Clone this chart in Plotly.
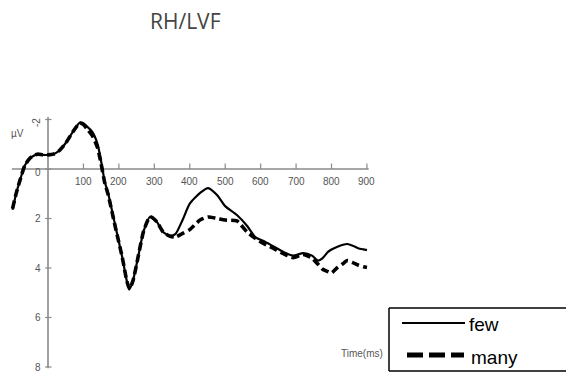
import plotly.graph_objects as go

# ---- data ----
time_ms = [-100, -90, -80, -65, -50, -30, -15, 0, 15, 30, 50, 70, 90, 100, 110, 125,
           140, 150, 160, 170, 190, 210, 222, 230, 240, 255, 270, 288, 307, 325, 345,
           360, 380, 400, 430, 452, 477, 500, 533, 562, 585, 607, 635, 664, 692, 720,
           745, 762, 775, 790, 800, 815, 830, 845, 860, 875, 890, 900]
few_uv = [1.65, 1.0, 0.5, -0.15, -0.45, -0.6, -0.57, -0.57, -0.6, -0.72, -1.05, -1.5,
          -1.88, -1.85, -1.72, -1.5, -1.0, -0.3, 0.5, 1.0, 2.3, 3.6, 4.5, 4.85, 4.5,
          3.5, 2.5, 1.93, 2.13, 2.55, 2.7, 2.62, 2.05, 1.4, 0.95, 0.77, 1.05, 1.5,
          1.86, 2.3, 2.75, 2.9, 3.12, 3.35, 3.5, 3.4, 3.5, 3.7, 3.6, 3.35, 3.25, 3.15,
          3.07, 3.03, 3.1, 3.2, 3.25, 3.28]
many_uv = [1.6, 1.0, 0.5, -0.15, -0.45, -0.6, -0.57, -0.57, -0.6, -0.72, -1.05, -1.5,
           -1.85, -1.8, -1.62, -1.35, -0.85, -0.2, 0.55, 1.05, 2.35, 3.6, 4.5, 4.85,
           4.5, 3.5, 2.5, 1.93, 2.13, 2.55, 2.72, 2.75, 2.6, 2.45, 2.05, 1.94, 2.0,
           2.06, 2.1, 2.55, 2.8, 3.0, 3.2, 3.42, 3.58, 3.45, 3.6, 3.85, 4.05, 4.15,
           4.2, 4.0, 3.85, 3.7, 3.78, 3.88, 3.95, 3.98]
x_tick_vals = [100, 200, 300, 400, 500, 600, 700, 800, 900]
x_tick_text = ["100", "200", "300", "400", "500", "600", "700", "800", "900"]
y_tick_vals = [-2, 0, 2, 4, 6, 8]
y_tick_text = ["-2", "0", "2", "4", "6", "8"]
series_names = ["few", "many"]
title_text = "RH/LVF"

# page offset (body margin) and figure size
OFF = 8
W, H = 574, 373


def px(xp):
    return (xp - OFF) / W


def py(yp):
    return 1 - (yp - OFF) / H


axis_col = "#8a8a8a"
lab_col = "#555555"
tick_font = dict(family="Liberation Sans, Arial", size=10, color=lab_col)

fig = go.Figure()

# axes drawn in data space
fig.add_trace(go.Scatter(x=[0, 0], y=[-2.1, 8.05], mode="lines",
                         line=dict(color=axis_col, width=1.6), hoverinfo="skip", showlegend=False))
fig.add_trace(go.Scatter(x=[-102, 905], y=[0, 0], mode="lines",
                         line=dict(color=axis_col, width=1.6), hoverinfo="skip", showlegend=False))
for t in x_tick_vals:
    fig.add_trace(go.Scatter(x=[t, t], y=[0, -0.22], mode="lines",
                             line=dict(color=axis_col, width=1.2), hoverinfo="skip", showlegend=False))
for v in y_tick_vals:
    fig.add_trace(go.Scatter(x=[-8, 10], y=[v, v], mode="lines",
                             line=dict(color=axis_col, width=1.2), hoverinfo="skip", showlegend=False))

# curves
fig.add_trace(go.Scatter(x=time_ms, y=few_uv, mode="lines", name=series_names[0],
                         line=dict(color="black", width=2.2, shape="spline", smoothing=0.6),
                         showlegend=False))
fig.add_trace(go.Scatter(x=time_ms, y=many_uv, mode="lines", name=series_names[1],
                         line=dict(color="black", width=3.6, dash="8px,4px", shape="spline", smoothing=0.6),
                         showlegend=False))

# tick labels
for t, s in zip(x_tick_vals, x_tick_text):
    fig.add_annotation(x=t, y=0, text=s, showarrow=False, xref="x", yref="y",
                       xanchor="center", yanchor="top", yshift=-5, font=tick_font)
for v, s in zip(y_tick_vals, y_tick_text):
    if s == "-2":
        fig.add_annotation(x=0, y=v, text=s, showarrow=False, xref="x", yref="y",
                           xanchor="right", yanchor="middle", xshift=-4, yshift=-3,
                           textangle=-90, font=tick_font)
    elif s == "0":
        fig.add_annotation(x=0, y=v, text=s, showarrow=False, xref="x", yref="y",
                           xanchor="right", yanchor="middle", xshift=-5, yshift=-3, font=tick_font)
    else:
        fig.add_annotation(x=0, y=v, text=s, showarrow=False, xref="x", yref="y",
                           xanchor="right", yanchor="middle", xshift=-5, font=tick_font)

fig.add_annotation(x=px(17), y=py(133), xref="paper", yref="paper", text="µV",
                   showarrow=False, xanchor="center", yanchor="middle", font=tick_font)
fig.add_annotation(x=px(362), y=py(353), xref="paper", yref="paper", text="Time(ms)",
                   showarrow=False, xanchor="center", yanchor="middle",
                   font=dict(family="Liberation Sans Narrow, Liberation Sans", size=10, color=lab_col))
fig.add_annotation(x=px(185), y=py(21), xref="paper", yref="paper", text=title_text,
                   showarrow=False, xanchor="center", yanchor="middle",
                   font=dict(family="Open Sans, Noto Sans", size=21, color="#444444"))

# legend box (custom, open on the right as it runs past the image edge)
box_line = dict(color="black", width=1.5)
fig.add_shape(type="line", xref="paper", yref="paper",
              x0=px(389), x1=px(700), y0=py(308), y1=py(308), line=box_line, layer="above")
fig.add_shape(type="line", xref="paper", yref="paper",
              x0=px(389), x1=px(700), y0=py(371), y1=py(371), line=box_line, layer="above")
fig.add_shape(type="line", xref="paper", yref="paper",
              x0=px(389), x1=px(389), y0=py(371), y1=py(308), line=box_line, layer="above")
fig.add_shape(type="line", xref="paper", yref="paper",
              x0=px(402), x1=px(465), y0=py(323), y1=py(323),
              line=dict(color="black", width=2), layer="above")
fig.add_shape(type="line", xref="paper", yref="paper",
              x0=px(407), x1=px(464), y0=py(355), y1=py(355),
              line=dict(color="black", width=5, dash="16px,6px"), layer="above")
leg_font = dict(family="Liberation Sans, Arial", size=19, color="black")
fig.add_annotation(x=px(467), y=py(324), xref="paper", yref="paper", text=series_names[0],
                   showarrow=False, xanchor="left", yanchor="middle", font=leg_font)
fig.add_annotation(x=px(469), y=py(357), xref="paper", yref="paper", text=series_names[1],
                   showarrow=False, xanchor="left", yanchor="middle", font=leg_font)

px_per_ms = 0.3544
x0_px = 48.0 - OFF
px_per_uv = 24.75
y0_px = 169.0 - OFF
fig.update_layout(
    width=W, height=H,
    margin=dict(l=0, r=0, t=0, b=0),
    paper_bgcolor="white", plot_bgcolor="white",
    xaxis=dict(range=[(0 - x0_px) / px_per_ms, (W - x0_px) / px_per_ms],
               visible=False, fixedrange=True),
    yaxis=dict(range=[(H - y0_px) / px_per_uv, (0 - y0_px) / px_per_uv],
               visible=False, fixedrange=True),
    showlegend=False,
)

fig.write_html("out.html")
